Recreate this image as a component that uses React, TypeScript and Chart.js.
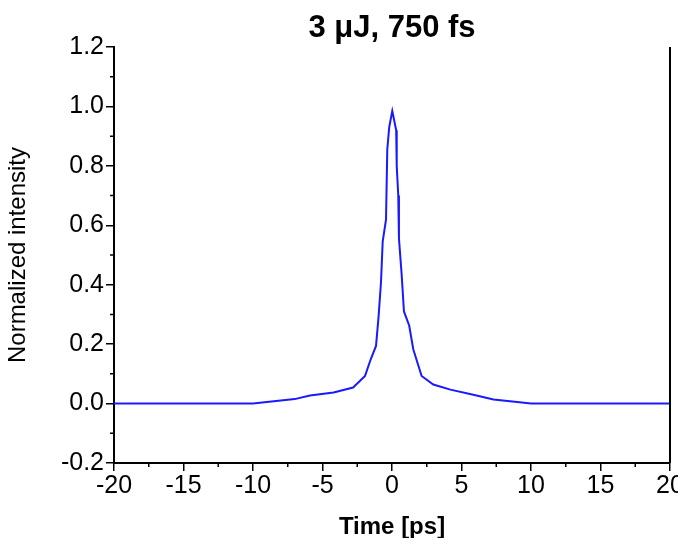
import { useEffect, useRef } from 'react';
import { Chart, registerables } from 'chart.js';

Chart.register(...registerables);

// pulse intensity profile
const times = [-20, -10, -9, -7, -5.9, -4.2, -2.8, -1.94, -1.53, -1.15, -0.96, -0.79, -0.67, -0.43, -0.34, -0.2, 0.02, 0.3, 0.34, 0.45, 0.5, 0.7, 0.86, 1.24, 1.53, 2.13, 2.97, 4.2, 5.85, 7.3, 9, 10, 20];
const intensity = [0, 0, 0.005, 0.015, 0.027, 0.037, 0.054, 0.093, 0.149, 0.194, 0.296, 0.41, 0.545, 0.62, 0.855, 0.93, 0.985, 0.92, 0.8, 0.7, 0.556, 0.43, 0.31, 0.262, 0.183, 0.093, 0.064, 0.047, 0.03, 0.014, 0.005, 0, 0];
const xTicks = [-20, -15, -10, -5, 0, 5, 10, 15, 20];
const yTicks = [-0.2, 0, 0.2, 0.4, 0.6, 0.8, 1.0, 1.2];

const FONT = '"Liberation Sans", Arial, sans-serif';

const framePlugin = {
  id: 'frame',
  afterDraw(chart: any) {
    const { ctx, chartArea: a, scales } = chart;
    ctx.save();
    ctx.strokeStyle = '#000';
    ctx.lineWidth = 2;
    ctx.beginPath();
    ctx.moveTo(a.right, a.top);
    ctx.lineTo(a.right, a.bottom);
    ctx.stroke();
    ctx.lineWidth = 1.5;
    // minor ticks
    ctx.beginPath();
    for (let i = 0; i < yTicks.length - 1; i++) {
      const y = scales.y.getPixelForValue((yTicks[i] + yTicks[i + 1]) / 2);
      ctx.moveTo(a.left, y);
      ctx.lineTo(a.left - 4, y);
    }
    for (let i = 0; i < xTicks.length - 1; i++) {
      const x = scales.x.getPixelForValue((xTicks[i] + xTicks[i + 1]) / 2);
      ctx.moveTo(x, a.bottom);
      ctx.lineTo(x, a.bottom + 4);
    }
    ctx.stroke();
    ctx.fillStyle = '#000';
    ctx.font = `bold 31px ${FONT}`;
    ctx.textAlign = 'center';
    ctx.textBaseline = 'middle';
    ctx.fillText('3 μJ, 750 fs', (a.left + a.right) / 2, 28);
    ctx.restore();
  },
};

export default function App() {
  const canvasRef = useRef<HTMLCanvasElement>(null);

  useEffect(() => {
    if (!canvasRef.current) return;
    const chart = new Chart(canvasRef.current, {
      type: 'line',
      data: {
        datasets: [
          {
            data: times.map((t, i) => ({ x: t, y: intensity[i] })),
            borderColor: '#1a1aff',
            borderWidth: 2,
            pointRadius: 0,
            tension: 0,
          },
        ],
      },
      options: {
        animation: false,
        responsive: false,
        layout: { padding: { top: 47, right: 16 } },
        plugins: { legend: { display: false }, tooltip: { enabled: false } },
        scales: {
          x: {
            type: 'linear',
            min: -20,
            max: 20,
            afterFit: (s: any) => { s.height = 83; },
            afterBuildTicks: (s: any) => { s.ticks = xTicks.map((v) => ({ value: v })); },
            ticks: { color: '#000', font: { family: FONT, size: 25 }, maxRotation: 0, padding: 0 },
            grid: { drawOnChartArea: false, color: '#000', tickLength: 8, lineWidth: 1.5 },
            border: { color: '#000', width: 2 },
            title: { display: true, text: 'Time [ps]', color: '#000', font: { family: FONT, size: 24, weight: 'bold' }, padding: { top: 8 } },
          },
          y: {
            min: -0.2,
            max: 1.2,
            afterFit: (s: any) => { s.width = 114; },
            afterBuildTicks: (s: any) => { s.ticks = yTicks.map((v) => ({ value: v })); },
            ticks: { color: '#000', font: { family: FONT, size: 25 }, padding: 2, callback: (v: any) => Number(v).toFixed(1) },
            grid: { drawOnChartArea: false, color: '#000', tickLength: 8, lineWidth: 1.5 },
            border: { color: '#000', width: 2 },
            title: { display: true, text: 'Normalized intensity', color: '#000', font: { family: FONT, size: 24 }, padding: { bottom: 0 } },
          },
        },
      },
      plugins: [framePlugin],
    });
    return () => chart.destroy();
  }, []);

  return (
    <div style={{ margin: -8 }}>
      <canvas ref={canvasRef} width={686} height={546} style={{ display: 'block' }} />
    </div>
  );
}
